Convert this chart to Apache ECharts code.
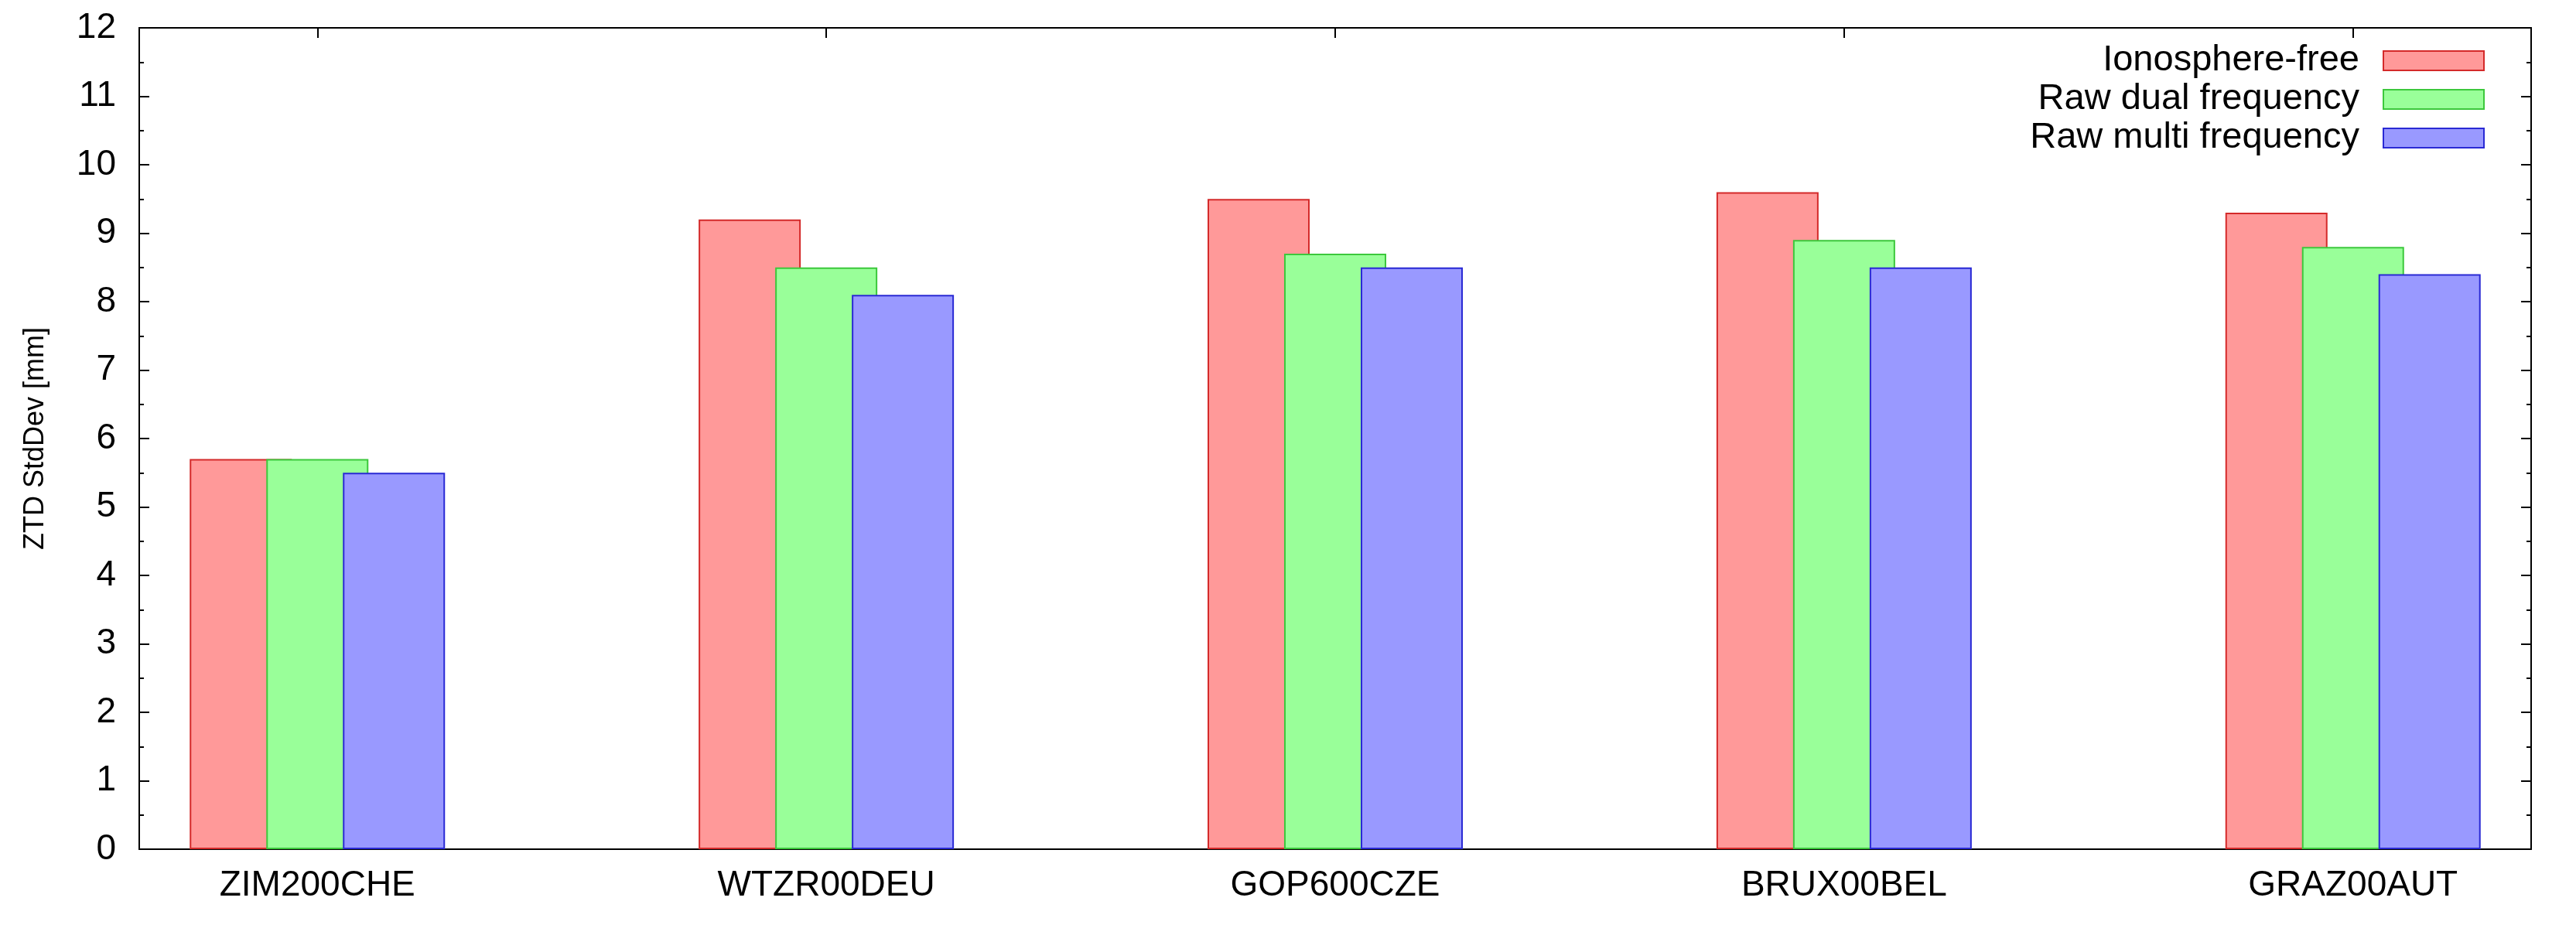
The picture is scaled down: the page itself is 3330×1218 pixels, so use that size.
<!DOCTYPE html>
<html>
<head>
<meta charset="utf-8">
<script src="https://cdn.jsdelivr.net/npm/echarts@6/dist/echarts.min.js"></script>
<style>
html, body { margin: 0; padding: 0; background: #fff; }
#chart { width: 3330px; height: 1218px; }
</style>
</head>
<body>
<div id="chart"></div>
<script>
const stations = ['ZIM200CHE', 'WTZR00DEU', 'GOP600CZE', 'BRUX00BEL', 'GRAZ00AUT'];
const ionoFree = [5.7, 9.2, 9.5, 9.6, 9.3];
const rawDual = [5.7, 8.5, 8.7, 8.9, 8.8];
const rawMulti = [5.5, 8.1, 8.5, 8.5, 8.4];
const seriesNames = ['Ionosphere-free', 'Raw dual frequency', 'Raw multi frequency'];
const yTicks = [0, 1, 2, 3, 4, 5, 6, 7, 8, 9, 10, 11, 12];

const FONT = "'Liberation Sans', Arial, Helvetica, sans-serif";
const catPositions = stations.map((s, i) => i);

function barSeries(name, values, fill, border) {
  return {
    type: 'bar',
    name: name,
    xAxisIndex: 0,
    yAxisIndex: 0,
    data: values.map((v, i) => [catPositions[i], v]),
    barWidth: 132,
    barGap: '-25%',
    itemStyle: { color: fill, borderColor: border, borderWidth: 2 },
    emphasis: { disabled: true },
    animation: false
  };
}

const tickStyle = { show: true, inside: true, length: 13, lineStyle: { color: '#000', width: 2 } };
const minorStyle = { show: true, splitNumber: 2, length: 6, lineStyle: { color: '#000', width: 2 } };

const chart = echarts.init(document.getElementById('chart'));
chart.setOption({
  backgroundColor: '#fff',
  animation: false,
  grid: { left: 180, right: 58, top: 36, bottom: 120, show: true, borderColor: '#000', borderWidth: 2, backgroundColor: 'transparent' },
  legend: {
    data: seriesNames,
    orient: 'vertical',
    right: 113,
    top: 50,
    align: 'right',
    itemWidth: 130,
    itemHeight: 25,
    itemGap: 3,
    icon: 'rect',
    textStyle: { fontSize: 47, fontFamily: FONT, color: '#000', padding: [0, 26, 0, 0] }
  },
  xAxis: [
    {
      type: 'value', min: -0.35, max: 4.35, position: 'bottom',
      axisLine: { show: true, onZero: false, lineStyle: { color: '#000', width: 2 } },
      axisTick: Object.assign({}, tickStyle, { customValues: catPositions }),
      axisLabel: {
        customValues: catPositions,
        formatter: v => stations[Math.round(v)] || '',
        fontSize: 46, fontFamily: FONT, color: '#000', margin: 24
      },
      splitLine: { show: false }
    },
    {
      type: 'value', min: -0.35, max: 4.35, position: 'top',
      axisLine: { show: true, onZero: false, lineStyle: { color: '#000', width: 2 } },
      axisTick: Object.assign({}, tickStyle, { customValues: catPositions }),
      axisLabel: { show: false },
      splitLine: { show: false }
    }
  ],
  yAxis: [
    {
      type: 'value', min: yTicks[0], max: yTicks[yTicks.length - 1], interval: 1, position: 'left',
      name: 'ZTD StdDev [mm]', nameLocation: 'middle', nameGap: 116,
      nameTextStyle: { fontSize: 36, fontFamily: FONT, color: '#000' },
      axisLine: { show: true, onZero: false, lineStyle: { color: '#000', width: 2 } },
      axisTick: tickStyle,
      minorTick: minorStyle,
      axisLabel: { fontSize: 46, fontFamily: FONT, color: '#000', margin: 30 },
      splitLine: { show: false }
    },
    {
      type: 'value', min: yTicks[0], max: yTicks[yTicks.length - 1], interval: 1, position: 'right',
      axisLine: { show: true, onZero: false, lineStyle: { color: '#000', width: 2 } },
      axisTick: tickStyle,
      minorTick: minorStyle,
      axisLabel: { show: false },
      splitLine: { show: false }
    }
  ],
  series: [
    barSeries(seriesNames[0], ionoFree, '#ff9999', '#d42a2a'),
    barSeries(seriesNames[1], rawDual, '#99ff99', '#3cc83c'),
    barSeries(seriesNames[2], rawMulti, '#9999ff', '#2a2ad4')
  ]
});
</script>
</body>
</html>
